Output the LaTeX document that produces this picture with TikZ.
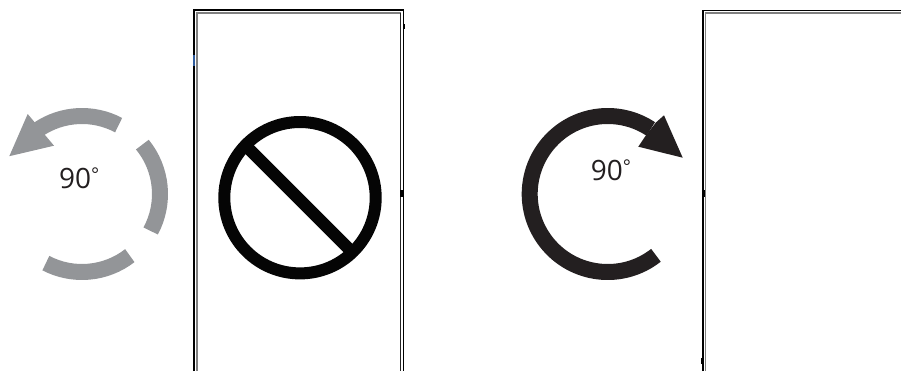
\documentclass[tikz,border=0pt]{standalone}
\usepackage{fontspec}
\setmainfont{Open Sans}
\definecolor{arcgray}{HTML}{939598}
\definecolor{arcdark}{HTML}{231F20}
\definecolor{rimgray}{HTML}{808080}
\definecolor{tickblue}{HTML}{2F5C9E}
\newcommand{\ninety}{\fontsize{28bp}{30bp}\selectfont 90\raisebox{6.5bp}{\fontsize{19bp}{20bp}\selectfont °}}
\tikzset{
  x=1bp,y=-1bp,
  frameout/.style={draw=black,line width=1.6bp},
  framein/.style={draw=rimgray,line width=1.6bp},
  frameinner/.style={draw=black!85,line width=1.2bp},
  ringarc/.style={line width=16bp},
  label90/.style={text=arcdark,inner sep=0pt,anchor=base west},
  tick/.style={fill=black,draw=none}
}
\begin{document}
\begin{tikzpicture}
\useasboundingbox (0,0) rectangle (901,371);
% left frame
\draw[frameout] (194.2,371) -- (194.2,10.2) -- (403.3,10.2) -- (403.3,371);
\draw[framein] (197,371) -- (197,13.2) -- (400.6,13.2);
\draw[frameinner] (400.6,13.2) -- (400.6,371);
\fill[tickblue] (193.3,55) rectangle (195.1,65.5);
\fill[tick] (403.2,24) rectangle (405,29);
\fill[tick] (400.2,190) rectangle (404.4,197);
% right frame
\draw[frameout] (703,371) -- (703,10.4) -- (901,10.4);
\draw[framein] (705.6,371) -- (705.6,13.2) -- (901,13.2);
\fill[tick] (701.8,190) rectangle (705,197);
\fill[tick] (700.8,358) rectangle (703,363.5);
% prohibition sign
\draw[line width=12bp,color=black!98] (300,197.7) circle[radius=75.7];
\draw[line width=12.3bp,color=black!98] (246,146) -- (351.5,251.5);
% left arrow
\begin{scope}[shift={(82,194)},x=1bp,y=1bp]
  \draw[arcgray,ringarc] (62:78) arc[start angle=62,end angle=124,radius=78];
  \draw[arcgray,ringarc] (39.3:78) arc[start angle=39.3,end angle=-28.3,radius=78];
  \draw[arcgray,ringarc] (-52.2:78) arc[start angle=-52.2,end angle=-117.6,radius=78];
\end{scope}
\fill[arcgray] (9.3,156.2) -- (27.7,114) -- (35,122.7) -- (45,135) -- (54,145.7) -- cycle;
\node[label90] (leftlabel) at (59,188) {\ninety};
% right arrow
\begin{scope}[shift={(607.7,194)},x=1bp,y=1bp]
  \draw[arcdark,ringarc] (-51.8:78) arc[start angle=-51.8,end angle=-303.5,radius=78];
\end{scope}
\fill[arcdark] (682.7,157.7) -- (664,115.3) -- (655.7,122.7) -- (645,136.7) -- (638.3,146.7) -- cycle;
\node[label90] (rightlabel) at (590.6,180) {\ninety};
\end{tikzpicture}
\end{document}
